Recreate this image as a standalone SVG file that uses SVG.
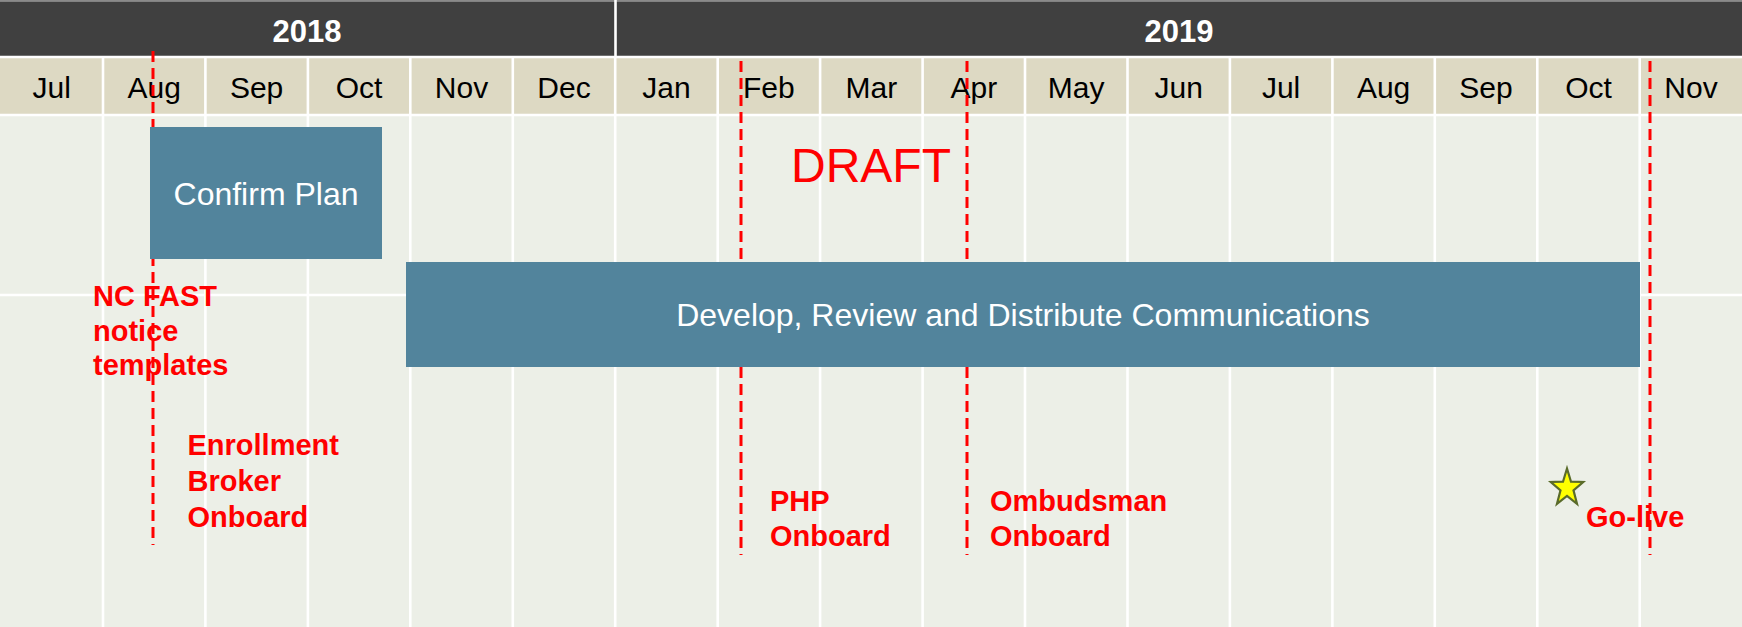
<svg xmlns="http://www.w3.org/2000/svg" width="1742" height="627" viewBox="0 0 1742 627">
<style>
  .year{font-family:"Liberation Sans",Arial,sans-serif;font-size:31px;font-weight:bold;fill:#FFFFFF;text-anchor:middle}
  .month{font-family:"Liberation Sans",Arial,sans-serif;font-size:30px;fill:#000000;text-anchor:middle}
  .bar{fill:#52849C}
  .barText{font-family:"Liberation Sans",Arial,sans-serif;font-size:32px;fill:#FFFFFF;text-anchor:middle}
  .ms{font-family:"Liberation Sans",Arial,sans-serif;font-size:29px;font-weight:bold;fill:#FF0000}
  .grid{stroke:#FFFFFF;stroke-width:2.6}
  .dash{stroke:#FF0000;stroke-width:3;stroke-dasharray:11 6;fill:none}
</style>
<!-- backgrounds -->
<rect x="0" y="0" width="1742" height="627" fill="#FFFFFF"/>
<rect x="0" y="0" width="1742" height="1.5" fill="#8A8A8A"/>
<rect x="0" y="1.5" width="1742" height="54.5" fill="#404040"/>
<rect x="0" y="58" width="1742" height="56" fill="#DDD9C3"/>
<rect x="0" y="116" width="1742" height="511" fill="#ECEFE7"/>
<!-- grid -->
<g id="grid" class="grid">
  <line x1="615.5" y1="0" x2="615.5" y2="57"/>
  <line x1="0" y1="57" x2="1742" y2="57"/>
  <line x1="0" y1="115" x2="1742" y2="115"/>
  <line x1="0" y1="295" x2="1742" y2="295"/>
  <line x1="103" y1="57" x2="103" y2="627"/>
  <line x1="205.4" y1="57" x2="205.4" y2="627"/>
  <line x1="307.9" y1="57" x2="307.9" y2="627"/>
  <line x1="410.3" y1="57" x2="410.3" y2="627"/>
  <line x1="512.8" y1="57" x2="512.8" y2="627"/>
  <line x1="615.2" y1="57" x2="615.2" y2="627"/>
  <line x1="717.7" y1="57" x2="717.7" y2="627"/>
  <line x1="820.1" y1="57" x2="820.1" y2="627"/>
  <line x1="922.6" y1="57" x2="922.6" y2="627"/>
  <line x1="1025" y1="57" x2="1025" y2="627"/>
  <line x1="1127.5" y1="57" x2="1127.5" y2="627"/>
  <line x1="1229.9" y1="57" x2="1229.9" y2="627"/>
  <line x1="1332.4" y1="57" x2="1332.4" y2="627"/>
  <line x1="1434.8" y1="57" x2="1434.8" y2="627"/>
  <line x1="1537.3" y1="57" x2="1537.3" y2="627"/>
  <line x1="1639.7" y1="57" x2="1639.7" y2="627"/>
</g>
<!-- headers -->
<g id="years">
  <text class="year" x="307" y="41.5">2018</text>
  <text class="year" x="1179" y="41.5">2019</text>
</g>
<g id="months">
  <text class="month" x="51.7" y="97.5">Jul</text>
  <text class="month" x="154.2" y="97.5">Aug</text>
  <text class="month" x="256.6" y="97.5">Sep</text>
  <text class="month" x="359.1" y="97.5">Oct</text>
  <text class="month" x="461.5" y="97.5">Nov</text>
  <text class="month" x="564" y="97.5">Dec</text>
  <text class="month" x="666.4" y="97.5">Jan</text>
  <text class="month" x="768.9" y="97.5">Feb</text>
  <text class="month" x="871.3" y="97.5">Mar</text>
  <text class="month" x="973.8" y="97.5">Apr</text>
  <text class="month" x="1076.2" y="97.5">May</text>
  <text class="month" x="1178.7" y="97.5">Jun</text>
  <text class="month" x="1281.1" y="97.5">Jul</text>
  <text class="month" x="1383.6" y="97.5">Aug</text>
  <text class="month" x="1486" y="97.5">Sep</text>
  <text class="month" x="1588.5" y="97.5">Oct</text>
  <text class="month" x="1691" y="97.5">Nov</text>
</g>
<!-- milestone lines -->
<g id="connectors">
  <line class="dash" x1="153" y1="51" x2="153" y2="545"/>
  <line class="dash" x1="741" y1="61" x2="741" y2="555"/>
  <line class="dash" x1="967" y1="61" x2="967" y2="555"/>
  <line class="dash" x1="1650" y1="61" x2="1650" y2="555"/>
</g>
<!-- task bars -->
<g id="confirm-plan">
  <rect class="bar" x="150" y="127" width="232" height="132"/>
  <text class="barText" x="266" y="204.5">Confirm Plan</text>
</g>
<g id="develop">
  <rect class="bar" x="406" y="262" width="1234" height="105"/>
  <text class="barText" x="1023" y="326">Develop, Review and Distribute Communications</text>
</g>
<g id="draft">
  <text x="871" y="181.5" font-family="'Liberation Sans',Arial,sans-serif" font-size="48" fill="#FF0000" text-anchor="middle">DRAFT</text>
</g>
<!-- milestone labels -->
<g id="nc-fast">
  <text class="ms" x="93" y="306">NC FAST</text>
  <text class="ms" x="93" y="340.5">notice</text>
  <text class="ms" x="93" y="375">templates</text>
</g>
<g id="enrollment-broker">
  <text class="ms" x="187.5" y="455">Enrollment</text>
  <text class="ms" x="187.5" y="491">Broker</text>
  <text class="ms" x="187.5" y="526.5">Onboard</text>
</g>
<g id="php">
  <text class="ms" x="770" y="510.5">PHP</text>
  <text class="ms" x="770" y="545.5">Onboard</text>
</g>
<g id="ombudsman">
  <text class="ms" x="990" y="510.5">Ombudsman</text>
  <text class="ms" x="990" y="545.5">Onboard</text>
</g>
<g id="go-live">
  <polygon transform="translate(1567,488)" points="0,-19.5 4,-6.3 16.2,-6 6.5,2.4 10,15.8 0,7.8 -10,15.8 -6.5,2.4 -16.2,-6 -4,-6.3" fill="#FFFF00" stroke="#5A6B2A" stroke-width="2.2" stroke-linejoin="miter"/>
  <text class="ms" x="1586" y="527">Go-live</text>
</g>
</svg>
